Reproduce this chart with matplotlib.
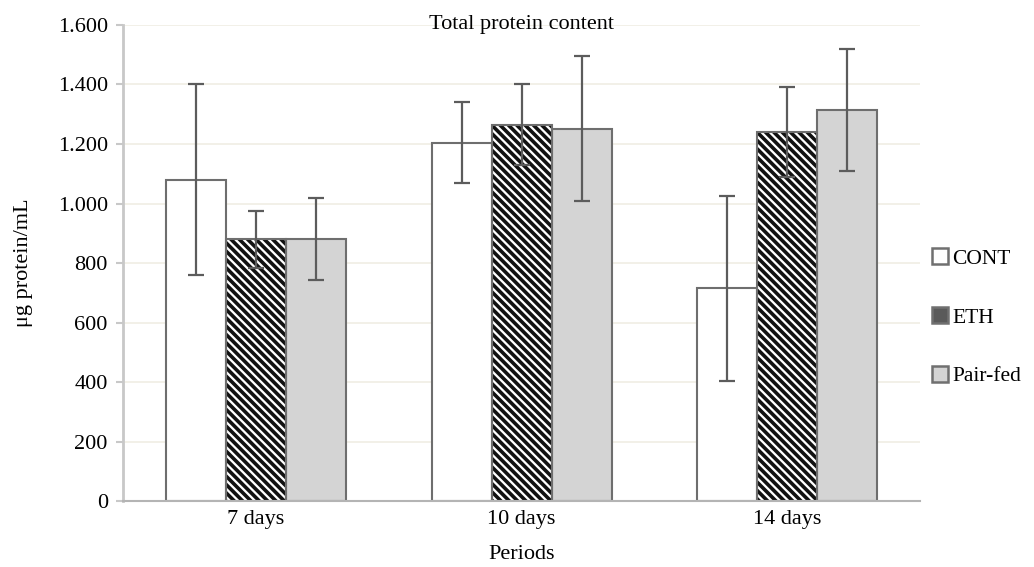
import matplotlib
matplotlib.use('Agg')
import matplotlib.pyplot as plt
from matplotlib.ticker import FuncFormatter
from matplotlib.lines import Line2D
import numpy as np

plt.rcParams['font.family'] = ['Liberation Serif', 'DejaVu Serif']
plt.rcParams['hatch.linewidth'] = 2.6

periods = ['7 days', '10 days', '14 days']
groups = ['CONT', 'ETH', 'Pair-fed']
# means and error bar half-widths
cont = [1080, 1205, 715]
eth = [880, 1265, 1240]
pair = [880, 1252, 1315]
cont_err = [320, 135, 310]
eth_err = [95, 137, 150]
pair_err = [137, 243, 205]

means = [cont, eth, pair]
errs = [cont_err, eth_err, pair_err]
faces = ['white', 'white', '#d4d4d4']
hatches = [None, '\\\\\\\\', None]
legend_faces = ['white', '#5a5a5a', '#d4d4d4']
fs = 16

fig = plt.figure(figsize=(10.34, 5.67), dpi=100)
ax = fig.add_axes([0.119, 0.116, 0.771, 0.840])

x = np.arange(len(periods))
w = 0.226
for i in range(3):
    pos = x + (i - 1) * w
    if hatches[i]:
        # hatch drawn in black, outline drawn separately in grey
        ax.bar(pos, means[i], width=w, color=faces[i], edgecolor='#111111',
               linewidth=0, hatch=hatches[i], zorder=2)
    else:
        ax.bar(pos, means[i], width=w, color=faces[i], linewidth=0, zorder=2)
    ax.bar(pos, means[i], width=w, fill=False, edgecolor='#6e6e6e',
           linewidth=1.5, zorder=2.5)
for i in range(3):
    pos = x + (i - 1) * w
    ax.errorbar(pos, means[i], yerr=errs[i], fmt='none', ecolor='#5c5c5c',
                elinewidth=1.6, capsize=6, capthick=1.6, zorder=3)

ax.set_ylim(0, 1600)
ax.set_xlim(-0.5, 2.5)
ax.set_yticks(range(0, 1601, 200))
ax.yaxis.set_major_formatter(FuncFormatter(lambda v, p: '{:,.0f}'.format(v).replace(',', '.')))
ax.set_xticks(x)
ax.set_xticklabels(periods)
ax.tick_params(axis='x', length=0, labelsize=fs, pad=6)
ax.tick_params(axis='y', length=5, color='#c8c8c8', width=1.5, labelsize=fs, pad=6)
ax.yaxis.grid(True, color='#f0eee4', linewidth=1.2, zorder=0)
ax.set_axisbelow(True)
for s in ['top', 'right']:
    ax.spines[s].set_visible(False)
ax.spines['left'].set_color('#c8c8c8')
ax.spines['left'].set_linewidth(2)
ax.spines['bottom'].set_color('#b4b4b4')
ax.spines['bottom'].set_linewidth(1.5)

ax.set_xlabel('Periods', fontsize=fs, labelpad=12)
ax.set_ylabel('\u03bcg protein/mL', fontsize=fs, labelpad=18)
ax.text(0.5, 1.0, 'Total protein content', transform=ax.transAxes,
        ha='center', va='center', fontsize=fs)

handles = [Line2D([], [], marker='s', linestyle='none', markersize=12,
                  markerfacecolor=legend_faces[i], markeredgecolor='#707070',
                  markeredgewidth=1.8) for i in range(3)]
fig.legend(handles, groups, loc='center left', bbox_to_anchor=(0.899, 0.44),
           frameon=False, fontsize=15.5, handletextpad=0.05, labelspacing=1.8,
           handlelength=1.0, borderpad=0, borderaxespad=0)

fig.savefig('out.png', dpi=100)
